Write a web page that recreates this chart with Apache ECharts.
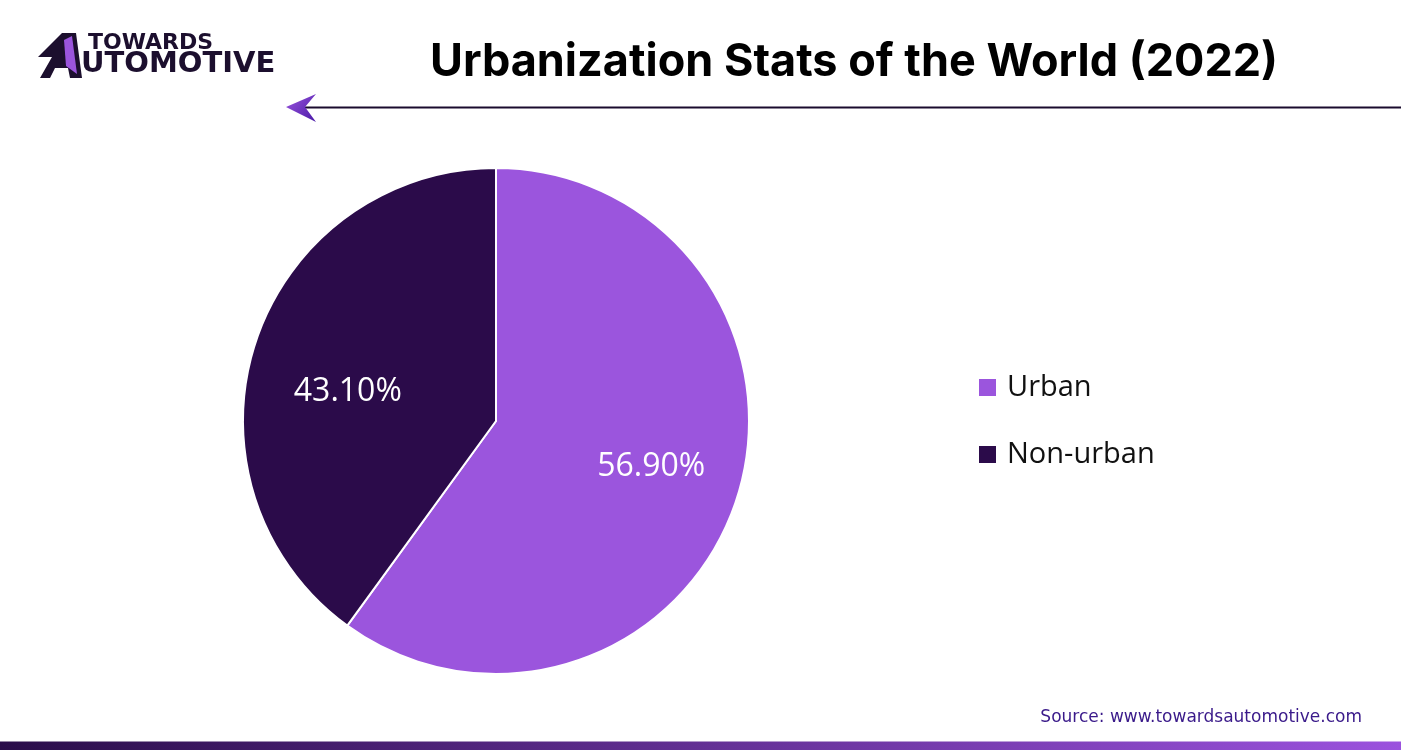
<!DOCTYPE html>
<html><head><meta charset="utf-8">
<script src="https://cdn.jsdelivr.net/npm/echarts@6/dist/echarts.min.js"></script>
<style>html,body{margin:0;padding:0;background:#fff;}#c{width:1401px;height:750px;}</style>
</head><body><div id="c"></div>
<script>
const categories = ['Urban', 'Non-urban'];
// slice shares as drawn in the picture (angle of the boundary)
const sliceShares = [60.0, 40.0];
// percentages printed on the slices
const labelValues = [56.9, 43.1];
const colors = ['#9b55dd', '#2b0b4a'];
const titleText = 'Urbanization Stats of the World (2022)';
const sourceText = 'Source: www.towardsautomotive.com';

const chart = echarts.init(document.getElementById('c'), null, {renderer: 'canvas'});
const data = categories.map((n, i) => ({name: n, value: sliceShares[i], itemStyle: {color: colors[i]}}));
const labelFormats = [
  v => '{v|' + v + '}\n{up|}',
  v => '{down|}\n{v|' + v + '}'
];
chart.setOption({
  animation: false,
  backgroundColor: '#fff',
  title: {
    text: titleText, left: 849, top: 35, textAlign: 'center',
    textStyle: {fontFamily: 'Inter', fontWeight: 'bold', fontSize: 45, color: '#000'}
  },
  legend: {
    orient: 'vertical', left: 977, top: 373, itemWidth: 19, itemHeight: 19, itemGap: 38, padding: 0,
    icon: 'rect', data: categories,
    textStyle: {fontFamily: 'Open Sans', fontSize: 29, color: '#111', padding: [0, 0, 0, 5]}
  },
  series: [{
    type: 'pie', center: [496, 421], radius: [0, 253], startAngle: 90, clockwise: true,
    data: data, label: {show: false}, labelLine: {show: false},
    itemStyle: {borderColor: '#fff', borderWidth: 2}, silent: true
  }, {
    type: 'pie', center: [496, 421], radius: [0, 314], startAngle: 90, clockwise: true,
    data: data.map((d, i) => ({name: d.name, value: d.value, itemStyle: {color: 'rgba(0,0,0,0)'},
      label: {padding: [0, 0, 0, i === 0 ? 6 : 8]}})),
    legendHoverLink: false, silent: true,
    label: {show: true, position: 'inside',
      formatter: p => labelFormats[p.dataIndex](labelValues[p.dataIndex].toFixed(2) + '%'),
      rich: {
        v: {fontFamily: 'Open Sans', fontSize: 32, color: '#fff', lineHeight: 40},
        up: {fontSize: 1, lineHeight: 8},
        down: {fontSize: 1, lineHeight: 40}
      }},
    labelLine: {show: false}, tooltip: {show: false}
  }],
  graphic: [
    // arrow line
    {type: 'line', shape: {x1: 305, y1: 107.5, x2: 1401, y2: 107.5}, style: {stroke: '#1a0b2e', lineWidth: 2}},
    {type: 'polygon', shape: {points: [[286, 107], [316, 94], [305, 107], [316, 122]]},
      style: {fill: {type: 'linear', x: 0, y: 0, x2: 1, y2: 1, colorStops: [{offset: 0, color: '#9b55dd'}, {offset: 1, color: '#4a1aa8'}]}}},
    // logo "A"
    {type: 'polygon', shape: {points: [[40, 78], [52, 57], [38, 57], [62, 33], [76, 33], [82, 78], [70, 78], [68, 68], [55, 68], [50, 78]]},
      style: {fill: '#1c0f2e'}},
    {type: 'polygon', shape: {points: [[64, 40], [72, 36], [77, 74], [66, 66]]}, style: {fill: '#9b55dd'}},
    {type: 'text', left: 88, top: 32, style: {text: 'TOWARDS', fontFamily: 'DejaVu Sans', fontWeight: 'bold', fontSize: 22, fill: '#1c0f2e'}},
    {type: 'text', left: 81, top: 50, style: {text: 'UTOMOTIVE', fontFamily: 'DejaVu Sans', fontWeight: 'bold', fontSize: 29, fill: '#1c0f2e'}},
    // source
    {type: 'text', right: 39, top: 709, style: {text: sourceText, fontFamily: 'DejaVu Sans', fontSize: 17, fill: '#3a1a8a'}},
    // bottom bar
    {type: 'rect', shape: {x: 0, y: 741, width: 1401, height: 9},
      style: {fill: {type: 'linear', x: 0, y: 0, x2: 1, y2: 0, colorStops: [{offset: 0, color: '#2a0d4a'}, {offset: 1, color: '#9b52de'}]}}},
    {type: 'rect', shape: {x: 0, y: 741, width: 1401, height: 1}, style: {fill: 'rgba(255,255,255,0.5)'}}
  ]
});
</script></body></html>
